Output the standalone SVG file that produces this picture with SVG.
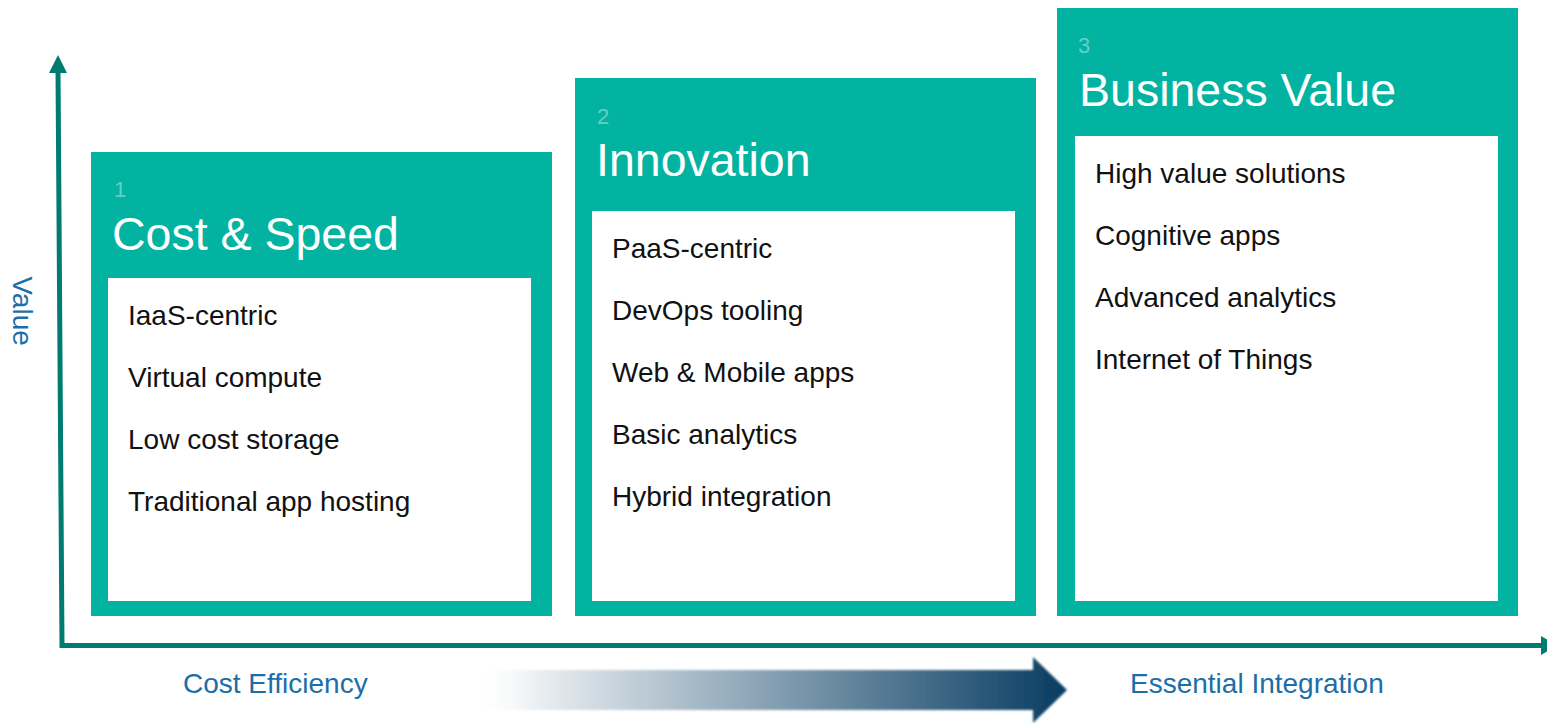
<svg xmlns="http://www.w3.org/2000/svg" width="1547" height="723" viewBox="0 0 1547 723">
<defs>
<style>
.box{fill:#02b3a1}
.inner{fill:#ffffff}
.num{font-family:"Liberation Sans",Arial,sans-serif;font-size:22px;fill:#ffffff;fill-opacity:0.4}
.title{font-family:"Liberation Sans",Arial,sans-serif;font-size:46.5px;fill:#ffffff}
.item{font-family:"Liberation Sans",Arial,sans-serif;font-size:28px;fill:#111111}
.axis{font-family:"Liberation Sans",Arial,sans-serif;font-size:28px;fill:#1c6ea8}
.axisline{fill:none;stroke:#007b72;stroke-width:5}
.axishead{fill:#007b72}
</style>
<linearGradient id="prog" x1="470" y1="0" x2="1067" y2="0" gradientUnits="userSpaceOnUse">
<stop offset="0" stop-color="#ffffff" stop-opacity="0"/>
<stop offset="0.12" stop-color="#e8edf1"/>
<stop offset="1" stop-color="#073c61"/>
</linearGradient>
<filter id="soft" x="-5%" y="-20%" width="110%" height="140%"><feGaussianBlur stdDeviation="0.8"/></filter>
</defs>
<rect width="1547" height="723" fill="#ffffff"/>

<g id="connectors">
<path class="axisline" d="M58,70 L62,645.5 L1542,645.5"/>
<polygon class="axishead" points="49,73 58,55 67,73"/>
<polygon class="axishead" points="1541,636 1557,645.5 1541,655"/>
<polygon points="470,670 1033,670 1033,657 1067,690 1033,723 1033,710 470,710" fill="url(#prog)" filter="url(#soft)"/>
</g>

<g id="axis-labels">
<text class="axis" transform="rotate(90 13 311)" x="13" y="311" text-anchor="middle">Value</text>
<text class="axis" x="183" y="693">Cost Efficiency</text>
<text class="axis" x="1130" y="693">Essential Integration</text>
</g>

<g id="node-cost-speed">
<rect class="box" x="91" y="152" width="461" height="464"/>
<rect class="inner" x="108" y="278" width="423" height="323"/>
<text class="num" x="114" y="197">1</text>
<text class="title" x="112" y="250">Cost &amp; Speed</text>
<text class="item" x="128" y="325">IaaS-centric</text>
<text class="item" x="128" y="387">Virtual compute</text>
<text class="item" x="128" y="449">Low cost storage</text>
<text class="item" x="128" y="511">Traditional app hosting</text>
</g>

<g id="node-innovation">
<rect class="box" x="575" y="78" width="461" height="538"/>
<rect class="inner" x="592" y="211" width="423" height="390"/>
<text class="num" x="597" y="124">2</text>
<text class="title" x="596" y="176">Innovation</text>
<text class="item" x="612" y="258">PaaS-centric</text>
<text class="item" x="612" y="320">DevOps tooling</text>
<text class="item" x="612" y="382">Web &amp; Mobile apps</text>
<text class="item" x="612" y="444">Basic analytics</text>
<text class="item" x="612" y="506">Hybrid integration</text>
</g>

<g id="node-business-value">
<rect class="box" x="1057" y="8" width="461" height="608"/>
<rect class="inner" x="1075" y="136" width="423" height="465"/>
<text class="num" x="1078" y="53">3</text>
<text class="title" x="1079" y="106">Business Value</text>
<text class="item" x="1095" y="183">High value solutions</text>
<text class="item" x="1095" y="245">Cognitive apps</text>
<text class="item" x="1095" y="307">Advanced analytics</text>
<text class="item" x="1095" y="369">Internet of Things</text>
</g>
</svg>
